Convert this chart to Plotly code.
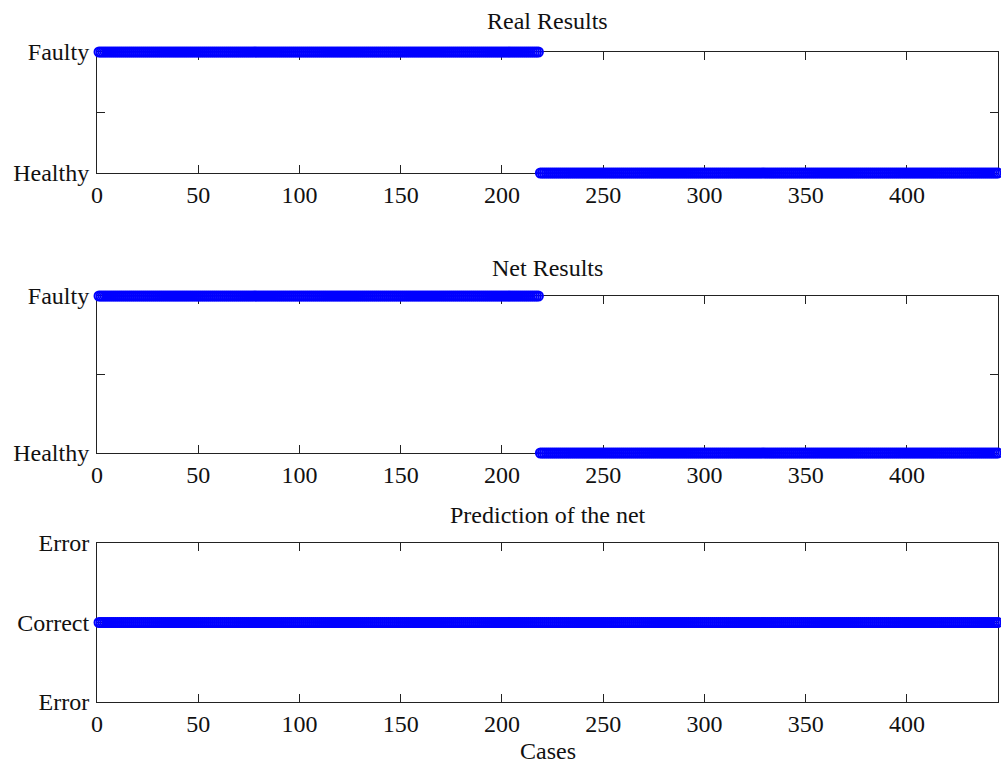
import plotly.graph_objects as go

# ---- data ----
n_faulty = 218          # cases 1..218 are faulty
n_healthy = 227         # cases 219..445 are healthy
cases = list(range(1, n_faulty + n_healthy + 1))
real_results = ["Faulty"] * n_faulty + ["Healthy"] * n_healthy
net_results = ["Faulty"] * n_faulty + ["Healthy"] * n_healthy
prediction = ["Correct"] * (n_faulty + n_healthy)

state_code = {"Healthy": 0, "Faulty": 1}
pred_code = {"Correct": 0, "Error": 1}

state_ticks = [0, 0.5, 1]
state_labels = ["Healthy", "", "Faulty"]
pred_ticks = [-1, 0, 1]
pred_labels = ["Error", "Correct", "Error"]
x_ticks = [0, 50, 100, 150, 200, 250, 300, 350, 400]

titles = ["Real Results", "Net Results", "Prediction of the net"]
x_title = "Cases"

W, H = 1001, 767
FONT = "Times New Roman, Liberation Serif, serif"
BLUE = "#0000ff"

def px_y(p):
    return 1 - p / H

x_dom = [97 / W, 998 / W]
y_doms = [
    [px_y(173), px_y(52)],
    [px_y(453), px_y(296)],
    [px_y(702), px_y(543)],
]

fig = go.Figure()
series = [
    [state_code[v] for v in real_results],
    [state_code[v] for v in net_results],
    [pred_code[v] for v in prediction],
]
for i, ys in enumerate(series):
    sfx = "" if i == 0 else str(i + 1)
    fig.add_trace(go.Scatter(
        x=cases, y=ys, mode="markers",
        marker=dict(symbol="circle-open", size=9, color=BLUE, line=dict(width=2, color=BLUE)),
        cliponaxis=False, showlegend=False, hoverinfo="skip",
        xaxis="x" + sfx, yaxis="y" + sfx,
    ))

axis_common = dict(
    showline=True, linecolor="#222222", linewidth=1, mirror="ticks",
    ticks="inside", ticklen=8, tickcolor="#222222", showgrid=False, zeroline=False,
    tickfont=dict(family=FONT, size=24, color="#111111"), layer="below traces",
)

layout = dict(
    width=W, height=H, margin=dict(l=0, r=0, t=0, b=0, autoexpand=False),
    paper_bgcolor="white", plot_bgcolor="white",
    font=dict(family=FONT, size=24, color="#111111"),
)
for i in range(3):
    sfx = "" if i == 0 else str(i + 1)
    layout["xaxis" + sfx] = dict(
        domain=x_dom, range=[0, 445], tickvals=x_ticks, anchor="y" + sfx,
        ticklabelstandoff=0, automargin=False, **axis_common)
    if i < 2:
        yextra = dict(range=[0, 1], tickvals=state_ticks, ticktext=state_labels)
    else:
        yextra = dict(range=[-1, 1], tickvals=pred_ticks, ticktext=pred_labels)
    layout["yaxis" + sfx] = dict(domain=y_doms[i], anchor="x" + sfx,
                                 ticklabelstandoff=2, automargin=False, **yextra, **axis_common)

fig.update_layout(**layout)

title_y = [21, 268, 515]
for t, yp in zip(titles, title_y):
    fig.add_annotation(text=t, x=(x_dom[0] + x_dom[1]) / 2, y=px_y(yp), xref="paper", yref="paper",
                       showarrow=False, xanchor="center", yanchor="middle",
                       font=dict(family=FONT, size=24, color="#111111"))
fig.add_annotation(text=x_title, x=(x_dom[0] + x_dom[1]) / 2, y=px_y(751), xref="paper", yref="paper",
                   showarrow=False, xanchor="center", yanchor="middle",
                   font=dict(family=FONT, size=24, color="#111111"))

fig.write_html("out.html", config={"displayModeBar": False},
               post_script="document.body.style.margin='0';document.body.style.padding='0';")
